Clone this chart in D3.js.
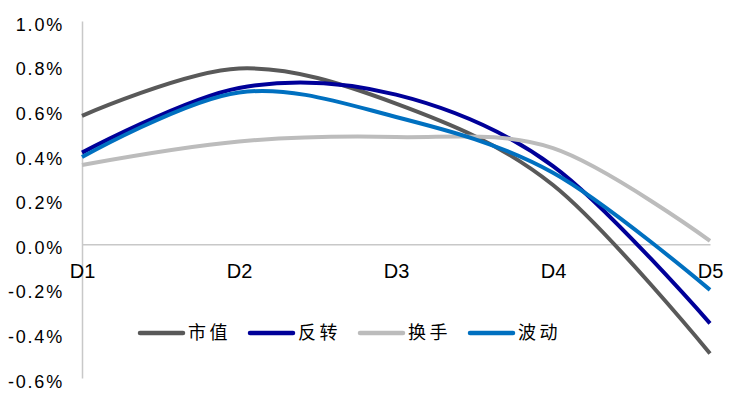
<!DOCTYPE html>
<html>
  <head>
    <meta charset=utf-8>
    <title>D1-D5</title>
    <style>
      body{ margin:0; background:#fff; }
      .tick text{ font-family:"Liberation Sans", Arial, sans-serif; fill:#000; }
      .legend text{ font-family:"Noto Sans CJK SC", sans-serif; font-size:18px; fill:#000; }
    </style>
  </head>
  <body>
    <script src="https://d3js.org/d3.v7.min.js"></script>
    <script>
      var groups = ["D1", "D2", "D3", "D4", "D5"];
      var yTicks = [1.0, 0.8, 0.6, 0.4, 0.2, 0.0, -0.2, -0.4, -0.6];

      // values in %
      var shizhi  = [0.575, 0.787, 0.63, 0.265, -0.49];
      var fanzhuan = [0.41, 0.70, 0.67, 0.35, -0.355];
      var huanshou = [0.355, 0.46, 0.48, 0.43, 0.015];
      var bodong  = [0.39, 0.68, 0.57, 0.32, -0.205];

      var names = ["市值", "反转", "换手", "波动"];
      var colors = ["#595959", "#000099", "#bcbcbc", "#0070c0"];
      var series = [shizhi, fanzhuan, huanshou, bodong];

      var width = 735, height = 399;

      var svg = d3.select("body").append("svg")
        .attr("width", width)
        .attr("height", height);

      var x = d3.scalePoint().domain(groups).range([82, 710]);
      var y = d3.scaleLinear().domain([-0.6, 1.0]).range([378, 21]);

      // y axis
      var yAxis = d3.axisLeft(y).tickValues(yTicks)
        .tickSize(0).tickPadding(18)
        .tickFormat(function(d){ return d.toFixed(1) + "%"; });
      var gy = svg.append("g").attr("transform", "translate(82,0)").call(yAxis);
      gy.select(".domain").attr("stroke", "#c8c8c8").attr("stroke-width", 1.5);
      gy.selectAll(".tick text")
        .style("font-size", "18px")
        .style("letter-spacing", "1.8px")
        .attr("dy", "0.9em")
        .attr("y", -7);

      // x axis on zero line
      var xAxis = d3.axisBottom(x).tickSize(0).tickPadding(20);
      var gx = svg.append("g").attr("transform", "translate(0," + y(0) + ")").call(xAxis);
      gx.select(".domain").attr("stroke", "#c8c8c8").attr("stroke-width", 1.5);
      gx.selectAll(".tick text").style("font-size", "20px");

      var line = d3.line()
        .x(function(d, i){ return x(groups[i]); })
        .y(function(d){ return y(d); })
        .curve(d3.curveCatmullRom.alpha(0));

      svg.selectAll(".series").data(series).enter()
        .append("path")
          .attr("class", "series")
          .attr("d", line)
          .attr("fill", "none")
          .attr("stroke", function(d, i){ return colors[i]; })
          .attr("stroke-width", 4);

      // legend
      var legend = svg.append("g").attr("class", "legend");
      var lx = 140, ly = 333;
      names.forEach(function(n, i){
        var g = legend.append("g").attr("transform", "translate(" + lx + "," + ly + ")");
        g.append("line")
          .attr("x1", 0).attr("x2", 43)
          .attr("stroke", colors[i])
          .attr("stroke-width", 4.5)
          .attr("stroke-linecap", "round");
        var t = g.append("text")
          .attr("x", 48).attr("dy", "0.35em")
          .style("letter-spacing", "3.5px")
          .text(n);
        lx += 48 + t.node().getComputedTextLength() + 19;
      });
    </script>
  </body>
</html>
